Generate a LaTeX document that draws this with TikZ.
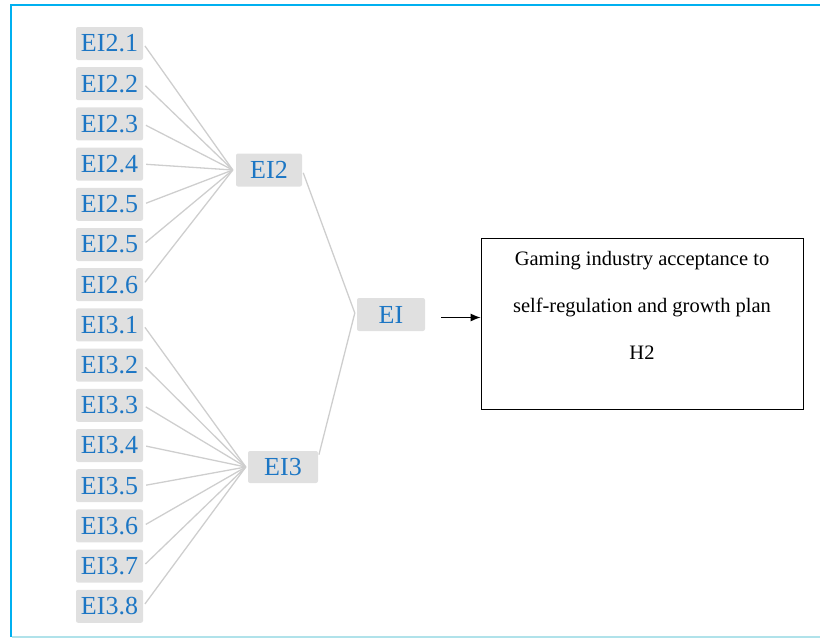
\documentclass[tikz,border=0pt]{standalone}
\usepackage{fontspec}
\setmainfont{Liberation Serif}
\usetikzlibrary{positioning,calc,arrows.meta}

\definecolor{eiblue}{RGB}{28,118,196}
\definecolor{boxgray}{RGB}{224,224,224}
\definecolor{linkgray}{RGB}{206,206,206}
\definecolor{frameblue}{RGB}{0,176,240}
\definecolor{framecyan}{RGB}{176,226,234}

\begin{document}
\begin{tikzpicture}[x=1pt, y=-1pt,
    leaf/.style={fill=boxgray, rounded corners=2pt, text=eiblue, inner sep=0pt,
        minimum width=67pt, minimum height=33pt, font=\fontsize{26}{30}\selectfont},
    link/.style={draw=linkgray, line width=1.3pt, shorten <=3pt},
    goalbox/.style={draw=black, line width=0.8pt, minimum width=322pt, minimum height=171pt},
    goaltxt/.style={align=center, font=\fontsize{20.5}{47}\selectfont}]

    % ==== MARGINS AND FRAME ====
    \useasboundingbox (0,0) rectangle (820,638);
    \draw[frameblue, line width=2pt] (10,5) -- (820,5);
    \draw[frameblue, line width=2pt] (11,4) -- (11,637);
    \draw[framecyan, line width=1.5pt] (12,637) -- (820,637);

    % ==== EI2 ITEMS ====
    \node[leaf] (e21) at (109.5,43.5) {EI2.1};
    \node[leaf] (e22) at (109.5,83.7) {EI2.2};
    \node[leaf] (e23) at (109.5,123.9) {EI2.3};
    \node[leaf] (e24) at (109.5,164.1) {EI2.4};
    \node[leaf] (e25) at (109.5,204.3) {EI2.5};
    \node[leaf] (e25b) at (109.5,244.5) {EI2.5};
    \node[leaf] (e26) at (109.5,284.7) {EI2.6};

    % ==== EI3 ITEMS ====
    \node[leaf] (e31) at (109.5,324.9) {EI3.1};
    \node[leaf] (e32) at (109.5,365.1) {EI3.2};
    \node[leaf] (e33) at (109.5,405.3) {EI3.3};
    \node[leaf] (e34) at (109.5,445.5) {EI3.4};
    \node[leaf] (e35) at (109.5,485.7) {EI3.5};
    \node[leaf] (e36) at (109.5,525.9) {EI3.6};
    \node[leaf] (e37) at (109.5,566.1) {EI3.7};
    \node[leaf] (e38) at (109.5,606.3) {EI3.8};

    % ==== EI2, EI3 AND EI ====
    \node[leaf, minimum width=66pt] (ei2) at (269,170) {EI2};
    \node[leaf, minimum width=70pt, minimum height=32pt] (ei3) at (283,467) {EI3};
    \node[leaf, minimum width=68pt] (ei) at (391,314.5) {EI};

    % ==== MEETING POINTS ====
    \coordinate (h2) at ($(ei2.west)+(-3,0)$);
    \coordinate (h3) at ($(ei3.west)+(-2,0)$);
    \coordinate (h1) at ($(ei.west)+(-2,-1.5)$);

    % ==== LINES TO EI2 ====
    \draw[link] (e21.east) -- (h2);
    \draw[link] (e22.east) -- (h2);
    \draw[link] (e23.east) -- (h2);
    \draw[link] (e24.east) -- (h2);
    \draw[link] (e25.east) -- (h2);
    \draw[link] (e25b.east) -- (h2);
    \draw[link] (e26.east) -- (h2);

    % ==== LINES TO EI3 ====
    \draw[link] (e31.east) -- (h3);
    \draw[link] (e32.east) -- (h3);
    \draw[link] (e33.east) -- (h3);
    \draw[link] (e34.east) -- (h3);
    \draw[link] (e35.east) -- (h3);
    \draw[link] (e36.east) -- (h3);
    \draw[link] (e37.east) -- (h3);
    \draw[link] (e38.east) -- (h3);

    % ==== LINES TO EI ====
    \draw[link] (ei2.east) -- (h1);
    \draw[link] (ei3.15) -- (h1);

    % ==== GOAL BOX ====
    \node[goalbox] (goal) at (642,323.5) {};
    \node[goaltxt, anchor=north, yshift=-10.5pt] (goaltext) at (goal.north)
        {Gaming industry acceptance to\\self-regulation and growth plan\\H2};

    % ==== ARROW FROM EI TO GOAL ====
    \draw[-{Latex[length=10pt,width=8pt]}, line width=1.1pt, shorten <=16pt]
        ($(ei.east)+(0,3)$) -- ($(ei.east -| goal.west)+(0,3)$);
\end{tikzpicture}
\end{document}
